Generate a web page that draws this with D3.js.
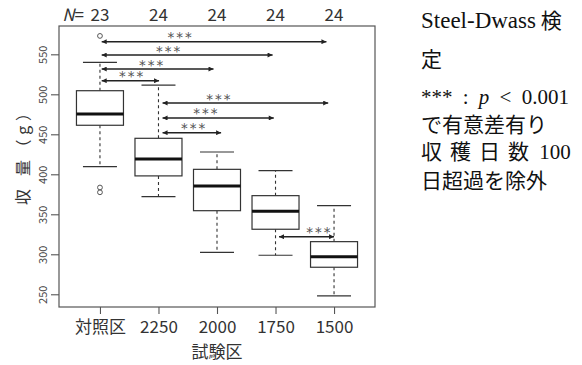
<!DOCTYPE html>
<html>
<head>
<meta charset="utf-8">
<script src="https://cdn.jsdelivr.net/npm/d3@7"></script>
<style>
  html, body { margin: 0; padding: 0; background: #fff; }
  svg { display: block; }
</style>
</head>
<body>
<svg id="chart" width="582" height="365"></svg>
<script>
// Yield (g) by treatment group, summarised as box plots
const categories   = ["対照区", "2250", "2000", "1750", "1500"];
const nCounts      = [23, 24, 24, 24, 24];
const whiskerLow   = [409.5, 372, 302.5, 298.8, 248];
const q1           = [461.3, 398, 354.5, 331.3, 283.8];
const medians      = [475.4, 419, 385.4, 353.8, 297];
const q3           = [504.5, 445, 406.2, 373.3, 315.8];
const whiskerHigh  = [540, 511.6, 427.9, 404.5, 360.8];
const outliers     = [
  { group: "対照区", value: 573 },
  { group: "対照区", value: 383.5 },
  { group: "対照区", value: 377.5 }
];
const yTicks = [250, 300, 350, 400, 450, 500, 550];

// Steel-Dwass pairwise comparisons (x in group-index units, y in g)
const comparisons = [
  { x0: 1.03, x1: 4.87, y: 565.8, starAt: 2.38, label: "***" },
  { x0: 1.03, x1: 3.95, y: 549.1, starAt: 2.18, label: "***" },
  { x0: 1.03, x1: 2.94, y: 531.6, starAt: 1.89, label: "***" },
  { x0: 1.03, x1: 2.01, y: 517.0, starAt: 1.55, label: "***" },
  { x0: 2.07, x1: 4.90, y: 489.1, starAt: 3.04, label: "***" },
  { x0: 2.07, x1: 3.97, y: 470.4, starAt: 2.82, label: "***" },
  { x0: 2.07, x1: 3.07, y: 452.0, starAt: 2.61, label: "***" },
  { x0: 4.06, x1: 5.00, y: 322.0, starAt: 4.75, label: "***" }
];

const svg = d3.select("#chart");
const plot = { left: 59, right: 375, top: 26, bottom: 307 };
const jp = "'Noto Sans CJK JP', 'Noto Sans', sans-serif";
const ink = "#333";

const x = d3.scaleLinear().domain([0.3, 5.7]).range([plot.left, plot.right]);
const y = d3.scaleLinear().domain([234.1, 585.4]).range([plot.bottom, plot.top]);
const xCat = c => x(categories.indexOf(c) + 1);

const boxes = categories.map((c, i) => ({
  cat: c, lo: whiskerLow[i], q1: q1[i], med: medians[i], q3: q3[i], hi: whiskerHigh[i]
}));

// arrowhead markers
const defs = svg.append("defs");
["end", "start"].forEach(kind => {
  defs.append("marker")
    .attr("id", "arrow-" + kind)
    .attr("viewBox", "0 0 10 10")
    .attr("refX", 10).attr("refY", 5)
    .attr("markerUnits", "userSpaceOnUse")
    .attr("markerWidth", 6).attr("markerHeight", 5)
    .attr("orient", kind === "end" ? "auto" : "auto-start-reverse")
    .append("path")
    .attr("d", "M0,0 L10,5 L0,10 Z")
    .attr("fill", "#222");
});

// frame
svg.append("rect")
  .attr("x", plot.left).attr("y", plot.top)
  .attr("width", plot.right - plot.left).attr("height", plot.bottom - plot.top)
  .attr("fill", "none").attr("stroke", "#555").attr("stroke-width", 1.2);

// y axis
const yAxis = d3.axisLeft(y).tickValues(yTicks).tickSize(8).tickPadding(4);
const gy = svg.append("g").attr("transform", `translate(${plot.left},0)`).call(yAxis);
gy.select(".domain").remove();
gy.selectAll(".tick line").attr("stroke", "#555").attr("stroke-width", 1.1);
gy.selectAll(".tick text")
  .attr("font-family", jp).attr("font-size", 11).attr("fill", "#444")
  .attr("x", 0).attr("dy", 0)
  .attr("text-anchor", "middle")
  .attr("transform", "translate(-17,0) rotate(-90)")
  .attr("dominant-baseline", "central");

// x axis
const xAxis = d3.axisBottom(x).tickValues(d3.range(1, categories.length + 1))
  .tickFormat(i => categories[i - 1]).tickSize(7).tickPadding(7);
const gx = svg.append("g").attr("transform", `translate(0,${plot.bottom})`).call(xAxis);
gx.select(".domain").remove();
gx.selectAll(".tick line").attr("stroke", "#555").attr("stroke-width", 1.1);
gx.selectAll(".tick text").attr("font-family", jp).attr("font-size", 17).attr("fill", "#333");

// axis titles
svg.append("text")
  .attr("x", (plot.left + plot.right) / 2).attr("y", 358)
  .attr("text-anchor", "middle")
  .attr("font-family", jp).attr("font-size", 17).attr("fill", "#333")
  .text("試験区");

svg.append("text")
  .attr("transform", `translate(29,155) rotate(-90)`)
  .attr("text-anchor", "middle")
  .attr("font-family", jp).attr("font-size", 16).attr("fill", "#333")
  .attr("textLength", 100).attr("lengthAdjust", "spacing")
  .text("収 量（g）");

// sample sizes
svg.append("text")
  .attr("x", 84).attr("y", 21)
  .attr("text-anchor", "end")
  .attr("font-family", jp).attr("font-size", 17).attr("fill", "#333")
  .call(t => {
    t.append("tspan").attr("font-style", "italic").text("N");
    t.append("tspan").text("=");
  });
svg.selectAll("text.ncount")
  .data(nCounts)
  .join("text")
  .attr("class", "ncount")
  .attr("x", (d, i) => x(i + 1)).attr("y", 21)
  .attr("text-anchor", "middle")
  .attr("font-family", jp).attr("font-size", 17).attr("fill", "#333")
  .text(d => d);

// box plots
const boxW = 47, capW = 34;
const g = svg.selectAll("g.box").data(boxes).join("g").attr("class", "box");

g.append("line") // upper whisker
  .attr("x1", d => xCat(d.cat)).attr("x2", d => xCat(d.cat))
  .attr("y1", d => y(d.q3)).attr("y2", d => y(d.hi))
  .attr("stroke", ink).attr("stroke-width", 1.1).attr("stroke-dasharray", "3,3");
g.append("line") // lower whisker
  .attr("x1", d => xCat(d.cat)).attr("x2", d => xCat(d.cat))
  .attr("y1", d => y(d.q1)).attr("y2", d => y(d.lo))
  .attr("stroke", ink).attr("stroke-width", 1.1).attr("stroke-dasharray", "3,3");
["hi", "lo"].forEach(k => {
  g.append("line")
    .attr("x1", d => xCat(d.cat) - capW / 2).attr("x2", d => xCat(d.cat) + capW / 2)
    .attr("y1", d => y(d[k])).attr("y2", d => y(d[k]))
    .attr("stroke", ink).attr("stroke-width", 1.2);
});
g.append("rect")
  .attr("x", d => xCat(d.cat) - boxW / 2).attr("width", boxW)
  .attr("y", d => y(d.q3)).attr("height", d => y(d.q1) - y(d.q3))
  .attr("fill", "#fff").attr("stroke", ink).attr("stroke-width", 1.2);
g.append("line")
  .attr("x1", d => xCat(d.cat) - boxW / 2).attr("x2", d => xCat(d.cat) + boxW / 2)
  .attr("y1", d => y(d.med)).attr("y2", d => y(d.med))
  .attr("stroke", "#111").attr("stroke-width", 3);

svg.selectAll("circle.outlier")
  .data(outliers)
  .join("circle")
  .attr("class", "outlier")
  .attr("cx", d => xCat(d.group)).attr("cy", d => y(d.value))
  .attr("r", 2.4)
  .attr("fill", "none").attr("stroke", "#555").attr("stroke-width", 1);

// comparison arrows
svg.selectAll("line.cmp")
  .data(comparisons)
  .join("line")
  .attr("class", "cmp")
  .attr("x1", d => x(d.x0)).attr("x2", d => x(d.x1))
  .attr("y1", d => y(d.y)).attr("y2", d => y(d.y))
  .attr("stroke", "#222").attr("stroke-width", 1.4)
  .attr("marker-start", "url(#arrow-start)")
  .attr("marker-end", "url(#arrow-end)");

svg.selectAll("text.star")
  .data(comparisons)
  .join("text")
  .attr("class", "star")
  .attr("x", d => x(d.starAt)).attr("y", d => y(d.y) + 0.5)
  .attr("text-anchor", "middle")
  .attr("font-family", "'DejaVu Sans', sans-serif").attr("font-size", 13.5)
  .attr("letter-spacing", 2)
  .attr("fill", "#555")
  .text(d => d.label);

// note on the right
const serif = "'Liberation Serif', serif";
const noteFs = 21, noteX = 421;
const note = (yy) => svg.append("text")
  .attr("x", noteX).attr("y", yy)
  .attr("font-family", serif).attr("font-size", noteFs).attr("fill", "#111");

note(28).call(t => {
  t.append("tspan").attr("font-size", 23).text("Steel-Dwass");
  t.append("tspan").attr("font-family", jp).text(" 検");
});
note(67).attr("font-family", jp).text("定");
note(104).attr("word-spacing", 5).call(t => {
  t.append("tspan").text("*** : ");
  t.append("tspan").attr("font-style", "italic").text("p");
  t.append("tspan").text(" < 0.001");
});
note(131.5).attr("font-family", jp).text("で有意差有り");
note(159).call(t => {
  t.append("tspan").attr("font-family", jp).attr("letter-spacing", 8).text("収穫日数");
  t.append("tspan").attr("word-spacing", -3).text(" 100");
});
note(188).attr("font-family", jp).text("日超過を除外");
</script>
</body>
</html>
